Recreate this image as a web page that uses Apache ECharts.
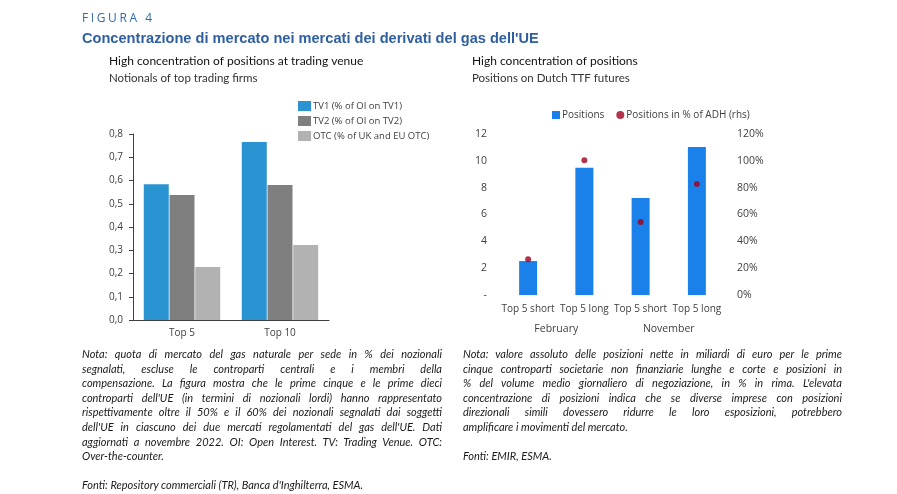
<!DOCTYPE html>
<html><head><meta charset="utf-8">
<script src="https://cdn.jsdelivr.net/npm/echarts@6/dist/echarts.min.js"></script>
<style>
html,body{margin:0;padding:0;background:#fff;}
#wrap{position:relative;width:897px;height:494px;overflow:hidden;}
#chart{position:absolute;left:0;top:0;width:897px;height:494px;}
.note{position:absolute;font-family:Lato,"Open Sans",sans-serif;font-style:italic;font-size:11px;line-height:14.6px;color:#1a1a1a;}
.note div{text-align:justify;text-align-last:justify;white-space:nowrap;}
.note div.l{text-align-last:left;}
#fig{position:absolute;left:82px;top:10px;font-family:"Open Sans",sans-serif;font-size:12px;letter-spacing:2.6px;color:#2f6bb0;line-height:16px;}
</style></head>
<body><div id="wrap"><div id="chart"></div>
<div id="fig">FIGURA 4</div>
<div class="note" id="n1" style="left:82px;top:347px;width:360px;"></div>
<div class="note" id="n2" style="left:463px;top:347px;width:379px;"></div>
</div>
<script>
// Left chart data
const leftCategories = ['Top 5', 'Top 10'];
const tv1 = [0.584, 0.766];
const tv2 = [0.538, 0.581];
const otc = [0.228, 0.323];
const leftSeriesNames = ['TV1 (% of OI on TV1)', 'TV2 (% of OI on TV2)', 'OTC (% of UK and EU OTC)'];

// Right chart data
const rightCategories = ['Top 5 short', 'Top 5 long', 'Top 5 short', 'Top 5 long'];
const rightGroups = ['February', 'November'];
const positions = [2.53, 9.49, 7.23, 11.03];
const positionsPctADH = [0.266, 1.004, 0.544, 0.827];

const note1Lines = [
 "Nota: quota di mercato del gas naturale per sede in % dei nozionali",
 "segnalati, escluse le controparti centrali e i membri della",
 "compensazione. La figura mostra che le prime cinque e le prime dieci",
 "controparti dell'UE (in termini di nozionali lordi) hanno rappresentato",
 "rispettivamente oltre il 50% e il 60% dei nozionali segnalati dai soggetti",
 "dell'UE in ciascuno dei due mercati regolamentati del gas dell'UE. Dati",
 "aggiornati a novembre 2022. OI: Open Interest. TV: Trading Venue. OTC:",
 "Over-the-counter.",
 "",
 "Fonti: Repository commerciali (TR), Banca d'Inghilterra, ESMA."
];
const note2Lines = [
 "Nota: valore assoluto delle posizioni nette in miliardi di euro per le prime",
 "cinque controparti societarie non finanziarie lunghe e corte e posizioni in",
 "% del volume medio giornaliero di negoziazione, in % in rima. L'elevata",
 "concentrazione di posizioni indica che se diverse imprese con posizioni",
 "direzionali simili dovessero ridurre le loro esposizioni, potrebbero",
 "amplificare i movimenti del mercato.",
 "",
 "Fonti: EMIR, ESMA."
];
function fillNote(id, lines, lastIdx){
  const el = document.getElementById(id);
  lines.forEach((t,i)=>{
    const d = document.createElement('div');
    d.textContent = t || '\u00a0';
    if (lastIdx.includes(i) || !t) d.className = 'l';
    el.appendChild(d);
  });
}
fillNote('n1', note1Lines, [7,9]);
fillNote('n2', note2Lines, [5,7]);

const chart = echarts.init(document.getElementById('chart'), null, {renderer:'canvas'});
const axisFont = 'Open Sans';
const option = {
  animation:false,
  textStyle:{fontFamily:axisFont},
  title:[
    {text:"Concentrazione di mercato nei mercati dei derivati del gas dell'UE", left:82, top:31, padding:0, textStyle:{fontFamily:'Liberation Sans', fontSize:14.6, fontWeight:'bold', color:'#2f5fa0'}},
    {text:'High concentration of positions at trading venue', left:109, top:55, padding:0, textStyle:{fontFamily:'Lato', fontSize:12, fontWeight:'normal', color:'#111'}},
    {text:'Notionals of top trading firms', left:109, top:72, padding:0, textStyle:{fontFamily:'Lato', fontSize:11.5, fontWeight:'normal', color:'#333'}},
    {text:'High concentration of positions', left:472, top:55, padding:0, textStyle:{fontFamily:'Lato', fontSize:12, fontWeight:'normal', color:'#111'}},
    {text:'Positions on Dutch TTF futures', left:472, top:72, padding:0, textStyle:{fontFamily:'Lato', fontSize:11.5, fontWeight:'normal', color:'#333'}}
  ],
  legend:[
    {orient:'vertical', left:298, top:101, padding:0, itemWidth:13, itemHeight:10, itemGap:5,
     textStyle:{fontSize:9.5, color:'#404040', fontFamily:axisFont, padding:[0,0,0,-3]},
     data:leftSeriesNames.map(n=>({name:n, icon:'rect'}))},
    {orient:'horizontal', left:552, top:110, padding:0, itemWidth:8, itemHeight:8, itemGap:12,
     textStyle:{fontSize:10, color:'#404040', fontFamily:axisFont, padding:[0,0,0,-3]},
     data:[{name:'Positions', icon:'rect'},{name:'Positions in % of ADH (rhs)', icon:'circle'}]}
  ],
  grid:[
    {left:133, right:568, top:134, bottom:174},
    {left:500, right:172, top:134, bottom:199}
  ],
  xAxis:[
    {type:'category', gridIndex:0, data:leftCategories,
     axisLine:{show:true, lineStyle:{color:'#404040', width:1}}, axisTick:{show:false},
     axisLabel:{fontSize:10, color:'#404040', margin:8}},
    {type:'category', gridIndex:1, data:rightCategories,
     axisLine:{show:false}, axisTick:{show:false},
     axisLabel:{fontSize:10, color:'#404040', margin:9, interval:0}},
    {type:'category', gridIndex:1, data:rightGroups, position:'bottom', offset:20,
     axisLine:{show:false}, axisTick:{show:false},
     axisLabel:{fontSize:10.5, color:'#404040', margin:9}}
  ],
  yAxis:[
    {type:'value', gridIndex:0, min:0, max:0.8, interval:0.1,
     axisLine:{show:true, lineStyle:{color:'#404040'}}, axisTick:{show:true, length:4, lineStyle:{color:'#404040'}},
     splitLine:{show:false},
     axisLabel:{fontSize:10, color:'#404040', margin:10, formatter:v=>v.toFixed(1).replace('.',',')}},
    {type:'value', gridIndex:1, min:0, max:12, interval:2,
     axisLine:{show:false}, axisTick:{show:false}, splitLine:{show:false},
     axisLabel:{fontSize:10.5, color:'#404040', margin:13, formatter:v=> v===0 ? '-' : String(v)}},
    {type:'value', gridIndex:1, min:0, max:1.2, interval:0.2, position:'right',
     axisLine:{show:false}, axisTick:{show:false}, splitLine:{show:false},
     axisLabel:{fontSize:10.5, color:'#404040', margin:12, formatter:v=> Math.round(v*100)+'%'}}
  ],
  series:[
    {name:leftSeriesNames[0], type:'bar', xAxisIndex:0, yAxisIndex:0, data:tv1, barGap:'3%', barCategoryGap:'22%',
     itemStyle:{color:'#2a94d2'}},
    {name:leftSeriesNames[1], type:'bar', xAxisIndex:0, yAxisIndex:0, data:tv2, barGap:'3%', barCategoryGap:'22%',
     itemStyle:{color:'#7f7f7f'}},
    {name:leftSeriesNames[2], type:'bar', xAxisIndex:0, yAxisIndex:0, data:otc, barGap:'3%', barCategoryGap:'22%',
     itemStyle:{color:'#b2b2b2'}},
    {name:'Positions', type:'bar', xAxisIndex:1, yAxisIndex:1, data:positions, barWidth:18,
     itemStyle:{color:'#1a80ea'}},
    {name:'Positions in % of ADH (rhs)', type:'scatter', xAxisIndex:1, yAxisIndex:2, data:positionsPctADH,
     symbol:'circle', symbolSize:6, itemStyle:{color:'#a00020'}, z:5}
  ]
};
chart.setOption(option);
</script>
</body></html>
